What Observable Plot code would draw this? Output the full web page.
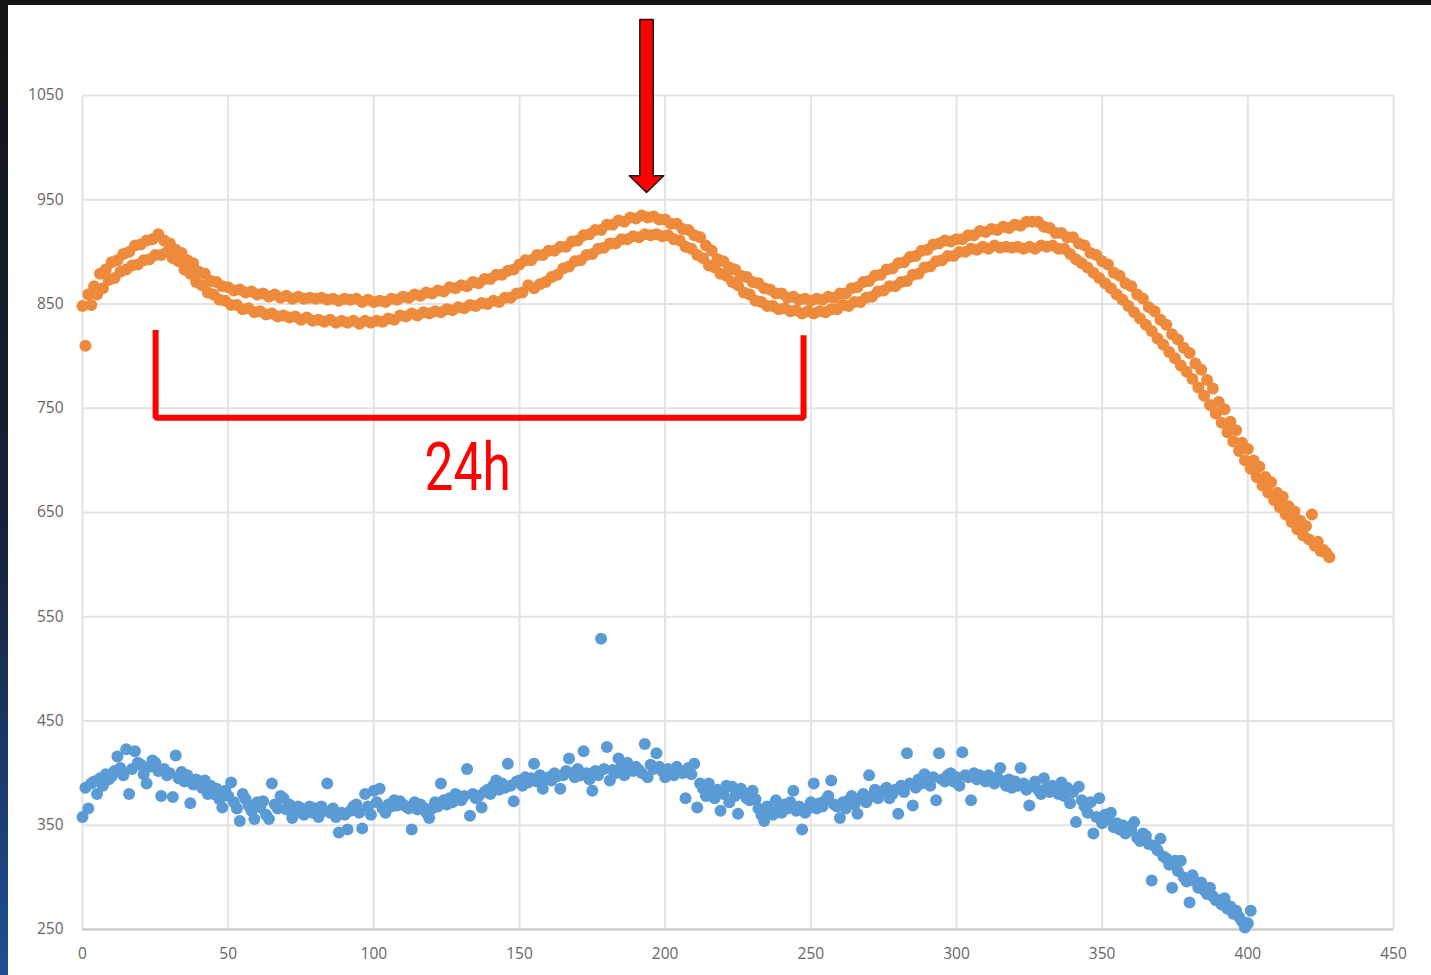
<!DOCTYPE html>
<html>
<head>
<meta charset="utf-8">
<script src="https://cdn.jsdelivr.net/npm/d3@7"></script>
<script src="https://cdn.jsdelivr.net/npm/@observablehq/plot@0.6"></script>
<style>
  html, body { margin: 0; padding: 0; background: #fff; }
  body { width: 1431px; height: 975px; position: relative; overflow: hidden; }
  #chart { position: absolute; left: 0; top: 0; }
  #frameTop { position: absolute; left: 0; top: 0; width: 1431px; height: 5px; background: #141414; }
  #frameLeft { position: absolute; left: 0; top: 0; width: 8px; height: 975px;
               background: linear-gradient(#141414 0%, #16213a 55%, #1f4f94 100%); }
</style>
</head>
<body>
<div id="chart"></div>
<div id="frameTop"></div>
<div id="frameLeft"></div>
<script>
// Axis ticks
const xTicks = [0, 50, 100, 150, 200, 250, 300, 350, 400, 450];
const yTicks = [250, 350, 450, 550, 650, 750, 850, 950, 1050];

// Orange series, upper track: samples at x = 0, 2, 4, ... 428
const orangeUpper = [
  848, 859, 867, 879, 883, 890, 892, 898, 900, 906,
  907, 911, 912, 917, 911, 908, 902, 899, 892, 889,
  881, 879, 872, 871, 867, 866, 863, 864, 861, 862,
  859, 860, 857, 859, 856, 858, 855, 857, 855, 856,
  855, 856, 854, 855, 853, 855, 854, 855, 852, 854,
  852, 853, 852, 855, 854, 857, 856, 859, 858, 861,
  860, 863, 862, 866, 865, 868, 867, 871, 870, 874,
  874, 878, 878, 882, 883, 888, 892, 892, 897, 897,
  901, 901, 905, 905, 910, 911, 916, 917, 921, 921,
  926, 926, 930, 929, 933, 932, 935, 933, 934, 931,
  931, 927, 927, 922, 921, 916, 914, 906, 901, 893,
  891, 885, 883, 877, 876, 871, 870, 865, 864, 860,
  860, 856, 857, 854, 855, 853, 855, 854, 857, 856,
  860, 860, 865, 866, 871, 872, 877, 878, 883, 884,
  889, 890, 895, 896, 901, 902, 907, 908, 911, 910,
  912, 912, 916, 916, 920, 919, 922, 921, 924, 923,
  926, 925, 929, 929, 929, 924, 923, 918, 918, 914,
  914, 908, 906, 899, 897, 891, 888, 880, 877, 870,
  867, 859, 855, 847, 843, 835, 830, 821, 816, 808,
  803, 793, 787, 777, 769, 756, 749, 737, 729, 717,
  711, 700, 694, 684, 679, 669, 665, 656, 651, 642,
  637, 648, 622, 614, 607
];

// Orange series, lower track: samples at x = 1, 3, 5, ... 427
const orangeLower = [
  810, 849, 859, 865, 873, 875, 881, 883, 887, 888,
  892, 893, 897, 897, 900, 894, 891, 883, 879, 871,
  868, 861, 859, 854, 853, 849, 849, 845, 846, 842,
  843, 840, 841, 838, 839, 837, 838, 835, 837, 834,
  835, 833, 835, 832, 834, 832, 834, 831, 834, 832,
  834, 833, 836, 835, 839, 838, 841, 839, 842, 841,
  843, 842, 845, 844, 847, 846, 849, 848, 851, 850,
  853, 852, 856, 856, 860, 861, 868, 865, 869, 871,
  876, 878, 884, 886, 891, 892, 897, 898, 903, 904,
  908, 908, 912, 912, 915, 914, 917, 916, 917, 915,
  916, 912, 911, 905, 903, 897, 894, 887, 885, 879,
  877, 871, 868, 861, 859, 853, 852, 848, 848, 845,
  846, 843, 844, 841, 843, 841, 843, 842, 845, 845,
  849, 848, 852, 852, 856, 857, 862, 863, 867, 867,
  871, 872, 878, 879, 885, 886, 891, 892, 896, 896,
  900, 900, 903, 902, 905, 903, 906, 904, 905, 904,
  905, 903, 905, 903, 906, 905, 906, 903, 903, 898,
  893, 889, 885, 880, 875, 870, 865, 859, 854, 848,
  842, 836, 830, 824, 817, 811, 804, 798, 791, 785,
  778, 770, 762, 753, 745, 736, 727, 718, 709, 700,
  692, 684, 676, 669, 662, 655, 648, 641, 634, 628,
  624, 618, 613, 611
];

// Blue series: samples at x = 0, 1, 2, ... 401
const blueValues = [
  358, 386, 366, 390, 392, 380, 395, 388, 399, 394,
  397, 402, 416, 405, 398, 423, 380, 404, 421, 410,
  408, 399, 390, 406, 412, 410, 402, 378, 404, 398,
  400, 377, 417, 395, 401, 392, 398, 371, 389, 394,
  390, 386, 393, 380, 388, 380, 385, 375, 367, 383,
  378, 391, 372, 366, 354, 380, 375, 369, 364, 356,
  372, 367, 373, 360, 356, 390, 370, 366, 378, 376,
  365, 370, 357, 362, 368, 366, 360, 364, 368, 362,
  366, 358, 368, 364, 390, 362, 366, 358, 343, 362,
  360, 346, 364, 368, 370, 362, 347, 380, 368, 360,
  383, 372, 385, 366, 362, 370, 368, 374, 369, 373,
  370, 368, 366, 346, 372, 365, 370, 367, 362, 357,
  366, 372, 368, 390, 374, 370, 376, 372, 380, 378,
  374, 378, 404, 359, 380, 376, 378, 367, 382, 384,
  380, 388, 393, 384, 390, 386, 409, 388, 373, 392,
  393, 388, 396, 391, 395, 409, 392, 398, 385, 394,
  396, 393, 400, 397, 385, 398, 402, 414, 400, 396,
  404, 398, 421, 400, 394, 383, 402, 398, 529, 404,
  425, 393, 403, 400, 414, 406, 398, 410, 405, 402,
  406, 403, 400, 428, 396, 408, 404, 419, 406, 402,
  396, 404, 400, 398, 406, 402, 400, 376, 405, 399,
  409, 367, 390, 385, 378, 390, 382, 376, 384, 364,
  380, 388, 372, 387, 378, 361, 385, 380, 376, 374,
  383, 375, 366, 360, 354, 368, 364, 360, 374, 366,
  362, 370, 366, 372, 383, 364, 368, 346, 362, 366,
  372, 390, 366, 371, 368, 374, 378, 393, 370, 368,
  357, 372, 366, 374, 378, 370, 361, 376, 380, 372,
  398, 378, 384, 376, 382, 383, 386, 376, 380, 384,
  361, 388, 382, 419, 390, 369, 386, 394, 390, 399,
  392, 388, 396, 374, 419, 394, 392, 398, 400, 392,
  396, 388, 420, 398, 396, 374, 400, 394, 398, 396,
  392, 398, 394, 390, 396, 405, 392, 388, 394, 386,
  392, 388, 405, 390, 384, 369, 388, 392, 384, 380,
  395, 386, 382, 388, 384, 380, 391, 378, 386, 371,
  382, 353, 387, 374, 368, 362, 372, 342, 358, 376,
  352, 360, 356, 362, 348, 352, 346, 350, 342, 348,
  346, 353, 338, 335, 342, 340, 332, 297, 330, 326,
  337, 320, 318, 312, 290, 316, 306, 316, 300, 296,
  276, 302, 296, 290, 295, 288, 284, 290, 282, 278,
  278, 274, 280, 270, 272, 265, 268, 262, 258, 252,
  256, 268
];

// 24-hour bracket and the arrow marking the peak
const bracketX = [25.1, 25.1, 247.5, 247.5];
const bracketY = [825, 741, 741, 820];
const bracketLabel = "24h";
const arrowX = [191.3, 195.9, 195.9, 199.5, 193.6, 187.7, 191.3];
const arrowY = [1123, 1123, 973, 973, 957, 973, 973];

const orange = [
  ...orangeUpper.map((v, i) => ({x: i * 2, y: v})),
  ...orangeLower.map((v, i) => ({x: i * 2 + 1, y: v}))
];
const blue = blueValues.map((v, i) => ({x: i, y: v}));
const bracket = bracketX.map((x, i) => ({x, y: bracketY[i]}));
const arrow = arrowX.map((x, i) => ({x, y: arrowY[i]}));

const tickStyle = {tickSize: 0, tickFormat: d => String(d), label: null, fill: "#666666", fontSize: 15.5};

const chart = Plot.plot({
  width: 1431,
  height: 975,
  marginLeft: 82,
  marginRight: 38,
  marginTop: 95,
  marginBottom: 46,
  style: {background: "transparent", fontFamily: "'Open Sans', sans-serif", fontSize: "15.5px", color: "#666666"},
  x: {domain: [0, 450], label: null},
  y: {domain: [250, 1050], label: null},
  marks: [
    Plot.gridX(xTicks, {stroke: "#e3e3e3", strokeOpacity: 1, strokeWidth: 2}),
    Plot.gridY(yTicks, {stroke: "#e3e3e3", strokeOpacity: 1, strokeWidth: 2}),
    Plot.ruleY([250], {stroke: "#c8c8c8", strokeWidth: 2}),
    Plot.axisX(xTicks, {...tickStyle, tickPadding: 18}),
    Plot.axisY(yTicks, {...tickStyle, tickPadding: 19}),
    Plot.dot(orange, {x: "x", y: "y", r: 6, fill: "#EE8A3B", stroke: null}),
    Plot.dot(blue, {x: "x", y: "y", r: 6, fill: "#5B9BD5", stroke: null}),
    Plot.line(bracket, {x: "x", y: "y", stroke: "#ff0000", strokeWidth: 6, strokeLinejoin: "miter", strokeLinecap: "butt"}),
    Plot.line(arrow, {x: "x", y: "y", curve: "linear-closed", fill: "#ff0000", stroke: "#1a1a1a", strokeWidth: 1.5}),
    Plot.text([bracketLabel], {x: 132.2, y: 692, text: d => d, fill: "#ff0000", fontSize: 66,
      fontFamily: "Roboto, sans-serif", textAnchor: "middle", lineAnchor: "middle", className: "span-label"})
  ]
});

// Narrow the "24h" label horizontally about its anchor
d3.select(chart).selectAll("g.span-label text").each(function () {
  const t = d3.select(this);
  const tr = t.attr("transform");
  if (tr) {
    t.attr("transform", tr + " scale(0.78,1)");
  } else {
    const x = +t.attr("x") || 0, y = +t.attr("y") || 0;
    t.attr("transform", `translate(${x},${y}) scale(0.78,1) translate(${-x},${-y})`);
  }
});

document.getElementById("chart").appendChild(chart);
</script>
</body>
</html>
